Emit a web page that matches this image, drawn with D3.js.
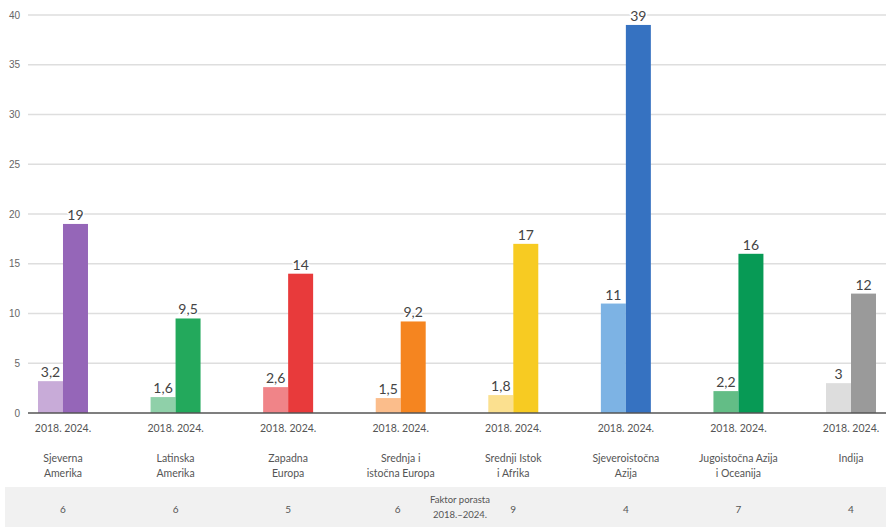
<!DOCTYPE html>
<html><head><meta charset="utf-8">
<script src="https://cdn.jsdelivr.net/npm/d3@7"></script>
<style>body{margin:0;background:#fff}svg{display:block;font-family:Lato,"Open Sans",sans-serif}</style>
</head><body><svg id="c" width="886" height="527"></svg>
<script>
const regions = [["Sjeverna","Amerika"],["Latinska","Amerika"],["Zapadna","Europa"],["Srednja i","istočna Europa"],["Srednji Istok","i Afrika"],["Sjeveroistočna","Azija"],["Jugoistočna Azija","i Oceanija"],["Indija"]];
const categories = regions.map(r => r.join(" "));
const years = ["2018","2024"];
const values2018 = [3.2,1.6,2.6,1.5,1.8,11,2.2,3];
const values2024 = [19,9.5,14,9.2,17,39,16,12];
const growth = [6,6,5,6,9,4,7,4];
const colors2018 = ["#c8abd8","#8fd0a9","#f08488","#fbbd8b","#fbe08f","#7db3e4","#63bd86","#dddddd"];
const colors2024 = ["#9566b8","#23a95c","#e83a3b","#f58520","#f7cb22","#3672c1","#079a55","#9a9a9a"];
const yTicks = [0,5,10,15,20,25,30,35,40];
const fmt = v => String(v).replace(".", ",");

const svg = d3.select("#c");
const y = d3.scaleLinear().domain([0,40]).range([413,15]);
const x = d3.scaleBand().domain(categories).range([6.7,907.3]).paddingInner(0.556).paddingOuter(0.278);
const xi = d3.scaleBand().domain(years).range([0, x.bandwidth()]);

// bottom band
svg.append("rect").attr("x",5).attr("y",487).attr("width",881).attr("height",40).attr("fill","#f1f1f1");

// grid
const yAxis = d3.axisLeft(y).tickValues(yTicks).tickSize(0).tickPadding(0).tickFormat(d => d);
const ga = svg.append("g").attr("transform","translate(22,0)").call(yAxis);
ga.select(".domain").remove();
ga.selectAll("text").attr("fill","#666").attr("font-size",10).attr("dx",-2);
svg.append("g").selectAll("line").data(yTicks.filter(d=>d>0)).join("line")
  .attr("x1",28).attr("x2",886).attr("y1",d=>y(d)).attr("y2",d=>y(d))
  .attr("stroke","#dedede").attr("stroke-width",1.5);

const data = categories.map((c,i) => ({c, i, vals:[{yr:"2018",v:values2018[i],col:colors2018[i]},{yr:"2024",v:values2024[i],col:colors2024[i]}]}));
const g = svg.append("g").selectAll("g").data(data).join("g").attr("transform", d => `translate(${x(d.c)},0)`);
g.selectAll("rect").data(d => d.vals).join("rect")
  .attr("x", d => xi(d.yr)).attr("width", xi.bandwidth())
  .attr("y", d => y(d.v)).attr("height", d => y(0) - y(d.v)).attr("fill", d => d.col);
g.selectAll("text.val").data(d => d.vals).join("text").attr("class","val")
  .attr("x", d => xi(d.yr) + xi.bandwidth()/2).attr("y", d => y(d.v) - 4)
  .attr("text-anchor","middle").attr("font-size",14).attr("fill","#444")
  .attr("stroke","#fff").attr("stroke-width",3).attr("paint-order","stroke")
  .text(d => fmt(d.v));

// zero axis
svg.append("line").attr("x1",28).attr("x2",886).attr("y1",y(0)).attr("y2",y(0)).attr("stroke","#555").attr("stroke-width",1.5);

// year labels
g.append("text").attr("x", x.bandwidth()/2).attr("y",432).attr("text-anchor","middle")
  .attr("font-size",10.5).attr("fill","#555").text("2018. 2024.");

// region labels
g.each(function(d){
  const t = d3.select(this).append("text").attr("text-anchor","middle").attr("font-size",10.5).attr("fill","#555");
  regions[d.i].forEach((line,k) => t.append("tspan").attr("x", x.bandwidth()/2).attr("y", 462 + k*15).text(line));
});

// growth factors
g.append("text").attr("x", d => x.bandwidth()/2 + (d.i===3 ? -3 : 0)).attr("y",513).attr("text-anchor","middle")
  .attr("font-size",10).attr("fill","#555").text(d => growth[d.i]);

const ft = svg.append("text").attr("text-anchor","middle").attr("font-size",9.5).attr("fill","#555");
ft.append("tspan").attr("x",460).attr("y",503).text("Faktor porasta");
ft.append("tspan").attr("x",460).attr("y",518).text("2018.–2024.");
</script></body></html>
